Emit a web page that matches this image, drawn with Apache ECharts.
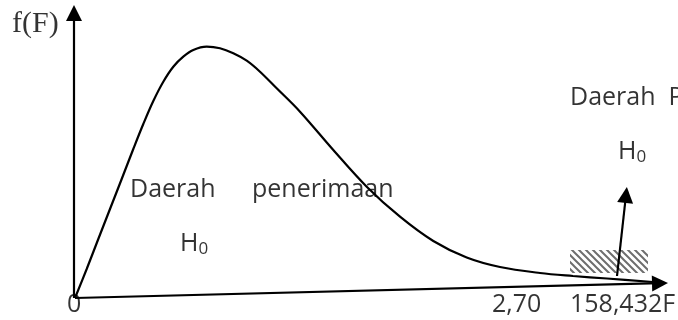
<!DOCTYPE html>
<html>
<head>
<meta charset="utf-8">
<script src="https://cdn.jsdelivr.net/npm/echarts/dist/echarts.min.js"></script>
<style>
  html, body { margin: 0; padding: 0; background: #fff; }
  #chart { width: 678px; height: 320px; }
</style>
</head>
<body>
<div id="chart"></div>
<script>
// f(F) curve (x along the axis, y = height above it)
const curveX = [0, 11.7, 23.3, 35, 46.7, 58.3, 68.3, 78.3, 88.3, 98.3, 108.3, 118.3, 131.7, 145, 158.3, 171.7, 185, 201.7, 225, 258.3, 291.7, 325, 358.3, 391.7, 425, 465, 498, 532, 578];
const curveY = [0, 29, 59, 89, 119, 149, 174, 197, 216.3, 231.3, 241.3, 248, 251.3, 249.7, 244.7, 237.3, 226.3, 209.7, 186.3, 148, 111.3, 81.3, 57, 40.5, 31, 25, 22, 19.5, 16];

// axis end points (tilted F axis, vertical f(F) axis)
const fAxisEnd = [585, 14.8];
const yAxisEnd = [-1, 285];
// rejection region box and arrow pointing to its label
const rejectBox = [[495, 48], [573, 25]];
const rejectArrow = [[542, 22], [551, 103]];

const tickLabels = ['0', '2,70', '158,432F'];
const tickX = [-8, 417, 495];
const tickY = -7;

const notes = [
  { x: -63, y: 274, text: 'f(F)', kind: 'serif' },
  { x: 55, y: 108, text: 'Daerah', kind: 'txt' },
  { x: 177, y: 108, text: 'penerimaan', kind: 'txt' },
  { x: 105, y: 54, text: '{h|H}{s|0}', kind: 'sub' },
  { x: 495, y: 200, text: 'Daerah  P', kind: 'txt' },
  { x: 543, y: 146, text: '{h|H}{s|0}', kind: 'sub' }
];

function hatch() {
  var c = document.createElement('canvas');
  c.width = 7; c.height = 7;
  var g = c.getContext('2d');
  g.strokeStyle = '#555';
  g.lineWidth = 2;
  g.beginPath();
  g.moveTo(-1, -1); g.lineTo(8, 8);
  g.moveTo(-1, 6); g.lineTo(1, 8);
  g.moveTo(6, -1); g.lineTo(8, 1);
  g.stroke();
  return c;
}

const txtFont = 'Open Sans';
const lineStyle = { color: '#000', width: 2.2, type: 'solid' };

function noteLabel(n) {
  if (n.kind === 'serif') {
    return { show: true, position: [0, 0], align: 'left', verticalAlign: 'middle',
      fontFamily: 'Liberation Serif', fontSize: 30, color: '#000' };
  }
  if (n.kind === 'sub') {
    return { show: true, position: [0, 0], align: 'left', verticalAlign: 'middle', color: '#000',
      rich: {
        h: { fontFamily: txtFont, fontSize: 25, color: '#000' },
        s: { fontFamily: txtFont, fontSize: 17, color: '#000', padding: [10, 0, 0, 0] }
      } };
  }
  return { show: true, position: [0, 0], align: 'left', verticalAlign: 'middle',
    fontFamily: txtFont, fontSize: 25, color: '#000' };
}

const chart = echarts.init(document.getElementById('chart'));
const option = {
  backgroundColor: '#fff',
  animation: false,
  grid: { left: 0, right: 0, top: 0, bottom: 0 },
  xAxis: { type: 'value', min: -75, max: 603, show: false },
  yAxis: { type: 'value', min: -22, max: 298, show: false },
  series: [
    {
      type: 'line',
      data: curveX.map((x, i) => [x, curveY[i]]),
      smooth: 0.35,
      showSymbol: false,
      clip: false,
      silent: true,
      lineStyle: lineStyle,
      markArea: {
        silent: true,
        itemStyle: { color: { image: hatch(), repeat: 'repeat' }, opacity: 0.85 },
        data: [[{ coord: rejectBox[0] }, { coord: rejectBox[1] }]]
      },
      markLine: {
        silent: true,
        symbol: ['none', 'triangle'],
        symbolSize: 16,
        label: { show: false },
        lineStyle: lineStyle,
        data: [
          [{ coord: [0, 0] }, { coord: fAxisEnd }],
          [{ coord: [-1, 0] }, { coord: yAxisEnd }],
          [{ coord: rejectArrow[0] }, { coord: rejectArrow[1] }]
        ]
      }
    },
    {
      type: 'scatter',
      symbolSize: 0,
      silent: true,
      clip: false,
      data: notes.map(n => ({ value: [n.x, n.y], name: n.text, label: noteLabel(n) }))
        .concat(tickLabels.map((t, i) => ({ value: [tickX[i], tickY], name: t,
          label: { show: true, position: [0, 0], align: 'left', verticalAlign: 'middle',
            fontFamily: txtFont, fontSize: 25, color: '#000' } }))),
      label: { formatter: p => p.name }
    }
  ]
};
chart.setOption(option);
</script>
</body>
</html>
